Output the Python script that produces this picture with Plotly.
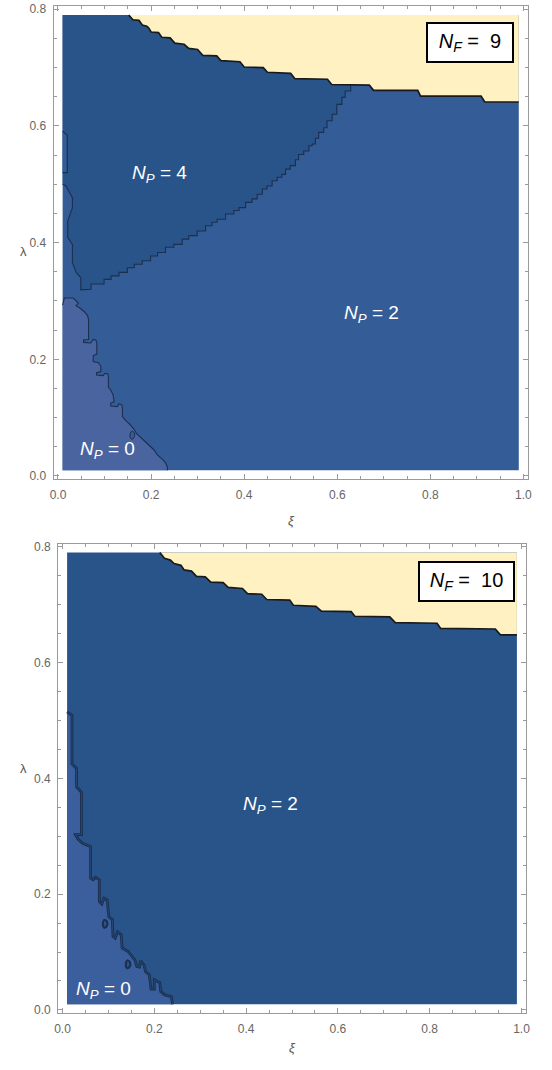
import plotly.graph_objects as go

# ---------------- data (xi, lambda) ----------------
XI_LO, XI_HI = 0.01, 0.99
LAM_LO, LAM_HI = 0.01, 0.79
x_ticks = [0.0, 0.2, 0.4, 0.6, 0.8, 1.0]
y_ticks = [0.0, 0.2, 0.4, 0.6, 0.8]

# ---- N_F = 9 ----
f9_yel_left_xi = [0.152, 0.161, 0.174, 0.181, 0.191, 0.195, 0.200, 0.216, 0.223, 0.241, 0.251, 0.271,
                  0.281, 0.300, 0.311, 0.341, 0.350, 0.391, 0.400, 0.441, 0.450, 0.500, 0.509, 0.579,
                  0.588, 0.629]
f9_yel_left_lam = [0.790, 0.782, 0.781, 0.773, 0.771, 0.768, 0.761, 0.760, 0.752, 0.751, 0.742, 0.740,
                   0.733, 0.731, 0.721, 0.720, 0.712, 0.710, 0.701, 0.700, 0.692, 0.690, 0.681, 0.680,
                   0.671, 0.670]
f9_yel_right_xi = [0.629, 0.669, 0.678, 0.773, 0.779, 0.909, 0.917, 0.990]
f9_yel_right_lam = [0.670, 0.670, 0.661, 0.661, 0.651, 0.651, 0.641, 0.641]

# staircase corners of the N_P = 4 / N_P = 2 boundary (from the junction down-left)
f9_np4_stair_xi = [0.629, 0.617, 0.610, 0.599, 0.589, 0.578, 0.571, 0.560, 0.553, 0.546, 0.539, 0.528,
                   0.517, 0.510, 0.499, 0.489, 0.481, 0.471, 0.460, 0.449, 0.439, 0.428, 0.417, 0.403,
                   0.389, 0.378, 0.360, 0.342, 0.331, 0.317, 0.299, 0.281, 0.267, 0.249, 0.231, 0.214,
                   0.199, 0.181, 0.164, 0.149, 0.131, 0.114, 0.099, 0.071]
f9_np4_stair_lam = [0.670, 0.660, 0.649, 0.637, 0.620, 0.609, 0.597, 0.589, 0.579, 0.569, 0.566, 0.557,
                    0.551, 0.542, 0.532, 0.526, 0.517, 0.512, 0.506, 0.497, 0.492, 0.483, 0.475, 0.469,
                    0.460, 0.455, 0.449, 0.440, 0.435, 0.429, 0.420, 0.412, 0.406, 0.397, 0.392, 0.383,
                    0.377, 0.369, 0.363, 0.357, 0.349, 0.343, 0.337, 0.329]
# left part of the N_P = 4 outline (from the bottom tip up to the left edge)
f9_np4_left_xi = [0.071, 0.049, 0.049, 0.039, 0.031, 0.031, 0.021, 0.021, 0.031, 0.031, 0.017, 0.010]
f9_np4_left_lam = [0.320, 0.319, 0.340, 0.349, 0.366, 0.397, 0.409, 0.437, 0.460, 0.477, 0.497, 0.500]

f9_sliver_xi = [0.010, 0.020, 0.020, 0.010]
f9_sliver_lam = [0.591, 0.584, 0.520, 0.520]

f9_np0_xi = [0.010, 0.0136, 0.033, 0.0386, 0.044, 0.0386, 0.047, 0.056, 0.0636, 0.0657, 0.0657, 0.055,
             0.055, 0.0707, 0.0757, 0.0814, 0.0835, 0.0835, 0.0757, 0.0757, 0.0871, 0.0921, 0.0921,
             0.0828, 0.0828, 0.097, 0.101, 0.107, 0.1085, 0.1085, 0.1135, 0.1185, 0.1207, 0.1135, 0.1135,
             0.128, 0.131, 0.137, 0.1385, 0.1385, 0.1457, 0.154, 0.1635, 0.1685, 0.1778, 0.1885, 0.197,
             0.206, 0.2135, 0.224, 0.2314, 0.235, 0.235]
f9_np0_lam = [0.293, 0.305, 0.305, 0.301, 0.296, 0.292, 0.288, 0.282, 0.275, 0.268, 0.234, 0.233,
              0.229, 0.228, 0.234, 0.233, 0.228, 0.209, 0.206, 0.196, 0.194, 0.188, 0.179,
              0.177, 0.173, 0.172, 0.176, 0.175, 0.169, 0.152, 0.147, 0.139, 0.127, 0.125, 0.120,
              0.119, 0.124, 0.122, 0.116, 0.102, 0.095, 0.089, 0.080, 0.073, 0.066, 0.059, 0.052,
              0.045, 0.036, 0.029, 0.022, 0.016, 0.010]

f9_dot_xi = [0.160, 0.164, 0.165, 0.162, 0.158, 0.155, 0.155, 0.157, 0.160]
f9_dot_lam = [0.077, 0.074, 0.069, 0.064, 0.063, 0.066, 0.072, 0.076, 0.077]

# ---- N_F = 10 ----
f10_yel_xi = [0.212, 0.222, 0.235, 0.243, 0.258, 0.265, 0.281, 0.292, 0.311, 0.323, 0.350, 0.361, 0.392,
              0.403, 0.434, 0.445, 0.495, 0.503, 0.552, 0.564, 0.629, 0.637, 0.713, 0.725, 0.816, 0.824,
              0.943, 0.954, 0.990]
f10_yel_lam = [0.790, 0.780, 0.777, 0.771, 0.768, 0.760, 0.758, 0.749, 0.748, 0.739, 0.738, 0.730, 0.728,
               0.719, 0.718, 0.709, 0.708, 0.699, 0.697, 0.689, 0.688, 0.680, 0.679, 0.669, 0.668, 0.659,
               0.658, 0.648, 0.648]

f10_np0_xi = [0.010, 0.0207, 0.0207, 0.0306, 0.0306, 0.0413, 0.0413, 0.0283, 0.0337, 0.0436, 0.0612,
              0.0612, 0.0666, 0.0719, 0.0803, 0.0803, 0.0857, 0.0903, 0.0972, 0.101, 0.1086, 0.110,
              0.1148, 0.120, 0.1278, 0.130, 0.143, 0.158, 0.162, 0.168, 0.170, 0.1775, 0.181, 0.189,
              0.193, 0.200, 0.200, 0.212, 0.214, 0.223, 0.237, 0.240, 0.240]
f10_np0_lam = [0.515, 0.509, 0.425, 0.417, 0.385, 0.376, 0.303, 0.303, 0.295, 0.288, 0.282,
               0.228, 0.225, 0.229, 0.225, 0.187, 0.183, 0.193, 0.190, 0.161, 0.156, 0.127,
               0.124, 0.135, 0.130, 0.107, 0.101, 0.086, 0.075, 0.074, 0.085, 0.078, 0.066, 0.061,
               0.036, 0.036, 0.052, 0.047, 0.032, 0.026, 0.023, 0.014, 0.010]

f10_dot1_xi = [0.093, 0.097, 0.098, 0.095, 0.091, 0.088, 0.088, 0.090, 0.093]
f10_dot1_lam = [0.156, 0.153, 0.148, 0.143, 0.142, 0.145, 0.151, 0.155, 0.156]
f10_dot2_xi = [0.143, 0.147, 0.148, 0.145, 0.141, 0.138, 0.138, 0.140, 0.143]
f10_dot2_lam = [0.086, 0.083, 0.078, 0.073, 0.072, 0.075, 0.081, 0.085, 0.086]

# ---------------- styles ----------------
YELLOW = "#FFF1C1"
DARK = "#28548A"
MED = "#345C96"
LIGHT9 = "#4A64A0"
LIGHT10 = "#3B5E9C"
NAVY = "#1B2F4F"
FONT = "Liberation Sans, Arial, sans-serif"


def stairs(xs, ys):
    """Turn staircase corner points into a drop-then-step polyline."""
    ox, oy = [xs[0]], [ys[0]]
    for i in range(1, len(xs)):
        ox += [xs[i - 1], xs[i]]
        oy += [ys[i], ys[i]]
    return ox, oy


np4_sx, np4_sy = stairs(f9_np4_stair_xi, f9_np4_stair_lam)
f9_np4_xi = np4_sx + f9_np4_left_xi
f9_np4_lam = np4_sy + f9_np4_left_lam

fig = go.Figure()


def poly(xs, ys, color, xa, ya):
    fig.add_trace(go.Scatter(x=xs, y=ys, mode="lines", fill="toself", fillcolor=color,
                             line=dict(width=0, color=color), hoverinfo="skip",
                             xaxis=xa, yaxis=ya))


def line(xs, ys, color, width, xa, ya):
    fig.add_trace(go.Scatter(x=xs, y=ys, mode="lines", line=dict(width=width, color=color),
                             hoverinfo="skip", xaxis=xa, yaxis=ya))


rect_x = [XI_LO, XI_HI, XI_HI, XI_LO, XI_LO]
rect_y = [LAM_LO, LAM_LO, LAM_HI, LAM_HI, LAM_LO]

# ---- top panel (N_F = 9) ----
xa, ya = "x", "y"
poly(rect_x, rect_y, MED, xa, ya)
yx = f9_yel_left_xi + f9_yel_right_xi[1:] + [XI_HI, f9_yel_left_xi[0]]
yy = f9_yel_left_lam + f9_yel_right_lam[1:] + [LAM_HI, LAM_HI]
poly(yx, yy, YELLOW, xa, ya)
px4 = [XI_LO] + f9_yel_left_xi + f9_np4_xi[1:] + [XI_LO]
py4 = [LAM_HI] + f9_yel_left_lam + f9_np4_lam[1:] + [LAM_HI]
poly(px4, py4, DARK, xa, ya)
poly(f9_sliver_xi, f9_sliver_lam, MED, xa, ya)
poly(f9_np0_xi + [XI_LO, XI_LO], f9_np0_lam + [LAM_LO, f9_np0_lam[0]], LIGHT9, xa, ya)
poly(f9_dot_xi, f9_dot_lam, MED, xa, ya)
line(f9_np4_xi, f9_np4_lam, NAVY, 1.1, xa, ya)
line(f9_sliver_xi, f9_sliver_lam, NAVY, 1.1, xa, ya)
line(f9_np0_xi, f9_np0_lam, NAVY, 1.1, xa, ya)
line(f9_dot_xi, f9_dot_lam, NAVY, 1.0, xa, ya)
line(f9_yel_left_xi + f9_yel_right_xi[1:], f9_yel_left_lam + f9_yel_right_lam[1:], "#1a1a1a", 1.7, xa, ya)

# ---- bottom panel (N_F = 10) ----
xa, ya = "x2", "y2"
poly(rect_x, rect_y, DARK, xa, ya)
poly(f10_yel_xi + [XI_HI, f10_yel_xi[0]], f10_yel_lam + [LAM_HI, LAM_HI], YELLOW, xa, ya)
poly(f10_np0_xi + [XI_LO, XI_LO], f10_np0_lam + [LAM_LO, f10_np0_lam[0]], LIGHT10, xa, ya)
for dx, dy in ((f10_dot1_xi, f10_dot1_lam), (f10_dot2_xi, f10_dot2_lam)):
    poly(dx, dy, DARK, xa, ya)
    line(dx, dy, NAVY, 2.0, xa, ya)
line(f10_np0_xi, f10_np0_lam, NAVY, 2.8, xa, ya)
line(f10_np0_xi, f10_np0_lam, "#2C4C7C", 0.8, xa, ya)
line(f10_yel_xi, f10_yel_lam, "#1a1a1a", 1.7, xa, ya)

# ---------------- axes ----------------
def axis_style(tickvals, rng, domain, anchor):
    return dict(range=rng, domain=domain, anchor=anchor, showgrid=False, zeroline=False,
                automargin=False,
                showline=True, linecolor="#9a9a9a", linewidth=1, mirror="ticks",
                ticks="inside", ticklen=5, tickwidth=1, tickcolor="#9a9a9a",
                tickvals=tickvals, ticktext=[f"{v:.1f}" for v in tickvals],
                tickfont=dict(family=FONT, size=12, color="#666666"),
                ticklabelstandoff=4,
                minor=dict(ticks="inside", ticklen=3, tickwidth=1, tickcolor="#9a9a9a",
                           dtick=0.05, tick0=0, showgrid=False),
                fixedrange=True)


XR = [-0.0096, 1.0096]
YR = [-0.0056, 0.8056]
fig.update_layout(
    width=552, height=1070, margin=dict(l=0, r=0, t=0, b=0, autoexpand=False),
    paper_bgcolor="white", plot_bgcolor="white", showlegend=False,
    xaxis=axis_style(x_ticks, XR, [53.5 / 552, 527.9 / 552], "y"),
    yaxis=axis_style(y_ticks, YR, [0.5521, 0.9944], "x"),
    xaxis2=axis_style(x_ticks, XR, [58.1 / 552, 525.9 / 552], "y2"),
    yaxis2=axis_style(y_ticks, YR, [0.0531, 0.4920], "x2"),
)

# ---------------- labels ----------------
def region_label(txt, x, y, xa, ya):
    fig.add_annotation(text=txt, x=x, y=y, xref=xa, yref=ya, showarrow=False,
                       font=dict(family=FONT, size=19, color="white"))


region_label("<i>N</i><sub><i>P</i></sub> = 4", 0.219, 0.517, "x", "y")
region_label("<i>N</i><sub><i>P</i></sub> = 2", 0.674, 0.278, "x", "y")
region_label("<i>N</i><sub><i>P</i></sub> = 0", 0.107, 0.044, "x", "y")
region_label("<i>N</i><sub><i>P</i></sub> = 2", 0.454, 0.354, "x2", "y2")
region_label("<i>N</i><sub><i>P</i></sub> = 0", 0.0895, 0.035, "x2", "y2")

fig.add_annotation(text="<i>N</i><sub><i>F</i></sub> =  9", x=0.885, y=0.743, xref="x", yref="y",
                   showarrow=False, font=dict(family=FONT, size=20, color="black"),
                   bgcolor="white", bordercolor="black", borderwidth=2, borderpad=1,
                   width=82, height=35)
fig.add_annotation(text="<i>N</i><sub><i>F</i></sub> =  10", x=0.880, y=0.740, xref="x2", yref="y2",
                   showarrow=False, font=dict(family=FONT, size=20, color="black"),
                   bgcolor="white", bordercolor="black", borderwidth=2, borderpad=1,
                   width=91, height=35)

for xx_, yy_ in ((291 / 552, 1 - 520 / 1070), (292 / 552, 1 - 1057 / 1070)):
    fig.add_annotation(text="<i>ξ</i>", x=xx_, y=yy_, xref="paper", yref="paper",
                       showarrow=False, font=dict(family=FONT, size=13, color="#555555"))
for yy_ in (1 - 242 / 1070, 1 - 778 / 1070):
    fig.add_annotation(text="λ", x=18 / 552, y=yy_, xref="paper", yref="paper",
                       showarrow=False, font=dict(family=FONT, size=13, color="#555555"))

fig.write_html("out.html", config={"displayModeBar": False},
               post_script="document.body.style.margin='0';document.body.style.padding='0';")
